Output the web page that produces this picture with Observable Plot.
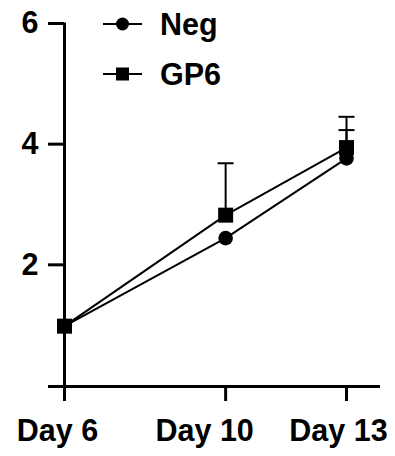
<!DOCTYPE html>
<html><head><meta charset="utf-8">
<script src="https://cdn.jsdelivr.net/npm/d3@7"></script>
<script src="https://cdn.jsdelivr.net/npm/@observablehq/plot@0.6"></script>
<style>
body{margin:0;background:#fff;}
#wrap{position:relative;width:395px;height:456px;font-family:"Liberation Sans",Arial,sans-serif;}
#legend{position:absolute;left:0;top:0;pointer-events:none;}
</style></head><body><div id="wrap"></div>
<script>
const days = [6, 10, 13];
const dayLabels = ["Day 6", "Day 10", "Day 13"];
const seriesNames = ["Neg", "GP6"];
const negMean = [1.0, 2.46, 3.78];
const negErr = [0.0, 0.0, 0.47];
const gp6Mean = [1.0, 2.84, 3.96];
const gp6Err = [0.0, 0.86, 0.51];
const yTicks = [2, 4, 6];

const rows = [];
days.forEach((d, i) => {
  rows.push({series: seriesNames[0], day: d, mean: negMean[i], err: negErr[i]});
  rows.push({series: seriesNames[1], day: d, mean: gp6Mean[i], err: gp6Err[i]});
});

const capSymbol = {draw(ctx) { ctx.moveTo(-8, 0); ctx.lineTo(8, 0); }};
const squareSymbol = {draw(ctx) { const s = 7.5; ctx.rect(-s, -s, 2 * s, 2 * s); }};

const FONT = 30.5;
const W = 395, H = 456;
const mL = 64, mR = 49, mT = 24, mB = 70;
const pxPerDay = (W - mL - mR) / (days[2] - days[0]);
const xLo = days[0] - 16 / pxPerDay, xHi = days[2] + 34 / pxPerDay;
const labelDx = [-7, -21, -8];

const marks = [
  Plot.ruleY([0], {x1: xLo, x2: xHi, strokeWidth: 3, stroke: "black"}),
  Plot.ruleX([days[0]], {y1: 0, y2: 6, strokeWidth: 3, stroke: "black", strokeLinecap: "square"}),
  Plot.axisY({ticks: yTicks, tickFormat: d3.format("d"), tickSize: 16, tickPadding: 10, strokeWidth: 3, fontSize: FONT, fontWeight: "bold", label: null, anchor: "left", dy: -1}),
  Plot.axisX({ticks: days, tickSize: 15, strokeWidth: 3, tickFormat: () => "", label: null, anchor: "bottom"}),
  ...dayLabels.map((lab, i) => Plot.text([days[i]], {x: d => d, frameAnchor: "bottom", dy: 54, dx: labelDx[i], lineAnchor: "bottom", text: () => lab, fontSize: FONT, fontWeight: "bold", fill: "black"})),
  Plot.line(rows, {x: "day", y: "mean", z: "series", stroke: "black", strokeWidth: 2}),
  Plot.ruleX(rows.filter(d => d.err > 0), {x: "day", y1: "mean", y2: d => d.mean + d.err, stroke: "black", strokeWidth: 2}),
  Plot.dot(rows.filter(d => d.err > 0), {x: "day", y: d => d.mean + d.err, symbol: capSymbol, stroke: "black", strokeWidth: 2, fill: "none"}),
  Plot.dot(rows.filter(d => d.series === "Neg"), {x: "day", y: "mean", symbol: "circle", r: 7.3, fill: "black", stroke: "none"}),
  Plot.dot(rows.filter(d => d.series === "GP6"), {x: "day", y: "mean", symbol: squareSymbol, fill: "black", stroke: "none"})
];

const chart = Plot.plot({
  width: W, height: H,
  marginLeft: mL, marginRight: mR, marginTop: mT, marginBottom: mB,
  x: {domain: [days[0], days[2]], axis: null},
  y: {domain: [0, 6], axis: null},
  style: {fontFamily: "'Liberation Sans', Arial, sans-serif", color: "black", background: "white", overflow: "visible"},
  marks
});
const wrap = document.getElementById("wrap");
wrap.appendChild(chart);

// Legend overlay
const legendSvg = `<svg id="legend" width="395" height="100" xmlns="http://www.w3.org/2000/svg" style="font-family:'Liberation Sans',Arial,sans-serif">
  <line x1="103" x2="142" y1="24" y2="24" stroke="black" stroke-width="2"/>
  <circle cx="122.5" cy="24" r="6.5" fill="black"/>
  <text x="160" y="24" dy="0.36em" font-size="${FONT}" font-weight="bold" fill="black">${seriesNames[0]}</text>
  <line x1="103" x2="142" y1="74" y2="74" stroke="black" stroke-width="2"/>
  <rect x="116" y="67.5" width="13" height="13" fill="black"/>
  <text x="160" y="74" dy="0.36em" font-size="${FONT}" font-weight="bold" fill="black">${seriesNames[1]}</text>
</svg>`;
wrap.insertAdjacentHTML("beforeend", legendSvg);
</script></body></html>
